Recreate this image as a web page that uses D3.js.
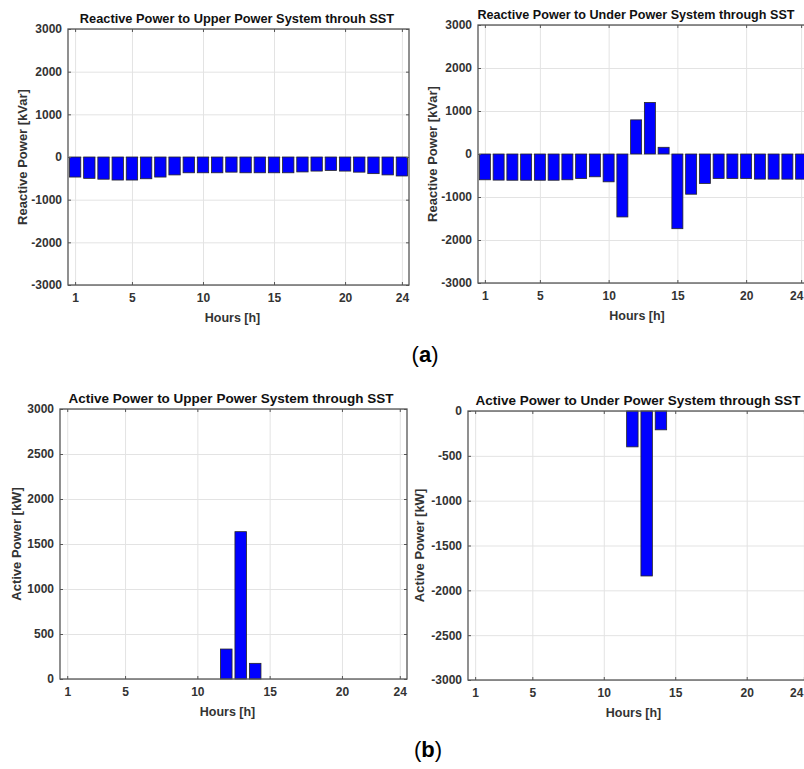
<!DOCTYPE html>
<html>
<head>
<meta charset="utf-8">
<script src="https://cdn.jsdelivr.net/npm/d3@7"></script>
<style>
  body { margin: 0; background: #fff; }
  svg { display: block; }
  text { font-family: "Liberation Sans", Arial, sans-serif; }
</style>
</head>
<body>
<svg id="fig" width="804" height="769"></svg>
<script>
// hours 1..24
var hours = d3.range(1, 25);

// reactive power [kVar]
var reactiveUpper = [-470, -500, -520, -540, -540, -510, -470, -420, -370, -370, -370, -355,
                     -370, -370, -370, -370, -350, -330, -315, -330, -355, -390, -420, -445];
var reactiveUnder = [-600, -607, -610, -610, -610, -610, -600, -570, -530, -647, -1464, 794,
                     1199, 156, -1737, -935, -685, -568, -568, -568, -584, -584, -585, -585];

// active power [kW]
var activeUpper = [0, 0, 0, 0, 0, 0, 0, 0, 0, 0, 0, 333, 1637, 174, 0, 0, 0, 0, 0, 0, 0, 0, 0, 0];
var activeUnder = [0, 0, 0, 0, 0, 0, 0, 0, 0, 0, 0, -400, -1840, -210, 0, 0, 0, 0, 0, 0, 0, 0, 0, 0];

var xTicks = [1, 5, 10, 15, 20, 24];
var reactiveTicks = [-3000, -2000, -1000, 0, 1000, 2000, 3000];
var activeUpTicks = [0, 500, 1000, 1500, 2000, 2500, 3000];
var activeDownTicks = [-3000, -2500, -2000, -1500, -1000, -500, 0];

var svg = d3.select("#fig");
var W = 804;
var plain = function(d){ return String(d); };

function drawPanel(p) {
  var w = p.right - p.left, h = p.bottom - p.top;

  var x = d3.scaleLinear().domain([0.5, 24.5]).range([0, w]);
  var y = d3.scaleLinear().domain(p.yDomain).range([h, 0]);

  var g = svg.append("g").attr("transform", "translate(" + p.left + "," + p.top + ")");

  // grid
  g.append("g").attr("class", "grid").attr("transform", "translate(0," + h + ")")
    .call(d3.axisBottom(x).tickValues(xTicks).tickSize(-h).tickFormat(""));
  g.append("g").attr("class", "grid")
    .call(d3.axisLeft(y).tickValues(p.yTicks).tickSize(-w).tickFormat(""));
  g.selectAll(".grid line").attr("stroke", "#e3e3e3");

  // bars
  var base = Math.max(p.yDomain[0], Math.min(0, p.yDomain[1]));
  g.selectAll("rect.bar")
    .data(hours.map(function(d, i){ return {h: d, v: p.values[i]}; }))
    .enter().append("rect")
      .attr("class", "bar")
      .attr("x", function(d){ return x(d.h - 0.4); })
      .attr("width", function(d){ return x(d.h + 0.4) - x(d.h - 0.4); })
      .attr("y", function(d){ return y(Math.max(d.v, base)); })
      .attr("height", function(d){ return Math.abs(y(d.v) - y(base)); })
      .attr("fill", "#0000ff")
      .attr("stroke", "#262626")
      .attr("stroke-width", 0.8);

  // axes with inward ticks (box on all four sides)
  var xa = g.append("g").attr("class", "ax").attr("transform", "translate(0," + h + ")")
    .call(d3.axisBottom(x).tickValues(xTicks).tickFormat(plain).tickSizeInner(-3).tickSizeOuter(0).tickPadding(8));
  var ya = g.append("g").attr("class", "ax")
    .call(d3.axisLeft(y).tickValues(p.yTicks).tickFormat(plain).tickSizeInner(-3).tickSizeOuter(0).tickPadding(6));
  g.append("g").attr("class", "ax")
    .call(d3.axisTop(x).tickValues(xTicks).tickSizeInner(-3).tickSizeOuter(0).tickFormat(""));
  g.append("g").attr("class", "ax").attr("transform", "translate(" + w + ",0)")
    .call(d3.axisRight(y).tickValues(p.yTicks).tickSizeInner(-3).tickSizeOuter(0).tickFormat(""));

  g.selectAll(".domain").remove();
  g.selectAll(".ax .tick line").attr("stroke", "#555");
  [xa, ya].forEach(function(a){
    a.selectAll("text").attr("font-size", 12).attr("font-weight", "bold").attr("fill", "#333")
      .attr("font-family", "'Liberation Sans', Arial, sans-serif");
  });
  // keep the last x label inside the picture where the panel runs off the edge
  xa.selectAll("text").each(function(d){
    var bb = this.getBBox();
    var over = p.left + x(d) + bb.width / 2 - (W - 1);
    if (over > 0) d3.select(this).attr("dx", -over);
  });

  g.append("rect").attr("width", w).attr("height", h)
    .attr("fill", "none").attr("stroke", "#555").attr("stroke-width", 1.3);

  // title and labels
  svg.append("text")
    .attr("x", p.titleX).attr("y", p.top - 6)
    .attr("text-anchor", "middle").attr("font-size", p.titleSize).attr("font-weight", "bold")
    .attr("fill", "#111").text(p.title);
  svg.append("text")
    .attr("x", p.left + w / 2 - 6).attr("y", p.bottom + 37)
    .attr("text-anchor", "middle").attr("font-size", 12.5).attr("font-weight", "bold")
    .attr("fill", "#333").text("Hours [h]");
  svg.append("text")
    .attr("transform", "translate(" + p.ylabX + "," + (p.top + h / 2) + ") rotate(-90)")
    .attr("text-anchor", "middle").attr("font-size", 13).attr("font-weight", "bold")
    .attr("fill", "#333").text(p.ylabel);
}

drawPanel({ left: 68, right: 409, top: 29, bottom: 285, yDomain: [-3000, 3000], yTicks: reactiveTicks,
  values: reactiveUpper, title: "Reactive Power to Upper Power System throuh SST", titleX: 237, titleSize: 12.8,
  ylabel: "Reactive Power [kVar]", ylabX: 27 });
drawPanel({ left: 478, right: 808, top: 25, bottom: 283, yDomain: [-3000, 3000], yTicks: reactiveTicks,
  values: reactiveUnder, title: "Reactive Power to Under Power System through SST", titleX: 636, titleSize: 12.6,
  ylabel: "Reactive Power [kVar]", ylabX: 437 });
drawPanel({ left: 60, right: 407, top: 409, bottom: 679, yDomain: [0, 3000], yTicks: activeUpTicks,
  values: activeUpper, title: "Active Power to Upper Power System through SST", titleX: 231, titleSize: 13.5,
  ylabel: "Active Power [kW]", ylabX: 21 });
drawPanel({ left: 468, right: 811, top: 411, bottom: 680, yDomain: [-3000, 0], yTicks: activeDownTicks,
  values: activeUnder, title: "Active Power to Under Power System through SST", titleX: 638, titleSize: 13.5,
  ylabel: "Active Power [kW]", ylabX: 424 });

// sub-figure captions
[["a", 425, 362], ["b", 428, 757]].forEach(function(c){
  var t = svg.append("text").attr("x", c[1]).attr("y", c[2]).attr("text-anchor", "middle")
    .attr("font-family", "'Liberation Serif', 'Times New Roman', serif").attr("font-size", 22).attr("fill", "#000");
  t.append("tspan").text("(");
  t.append("tspan").attr("font-weight", "bold").text(c[0]);
  t.append("tspan").text(")");
});
</script>
</body>
</html>
